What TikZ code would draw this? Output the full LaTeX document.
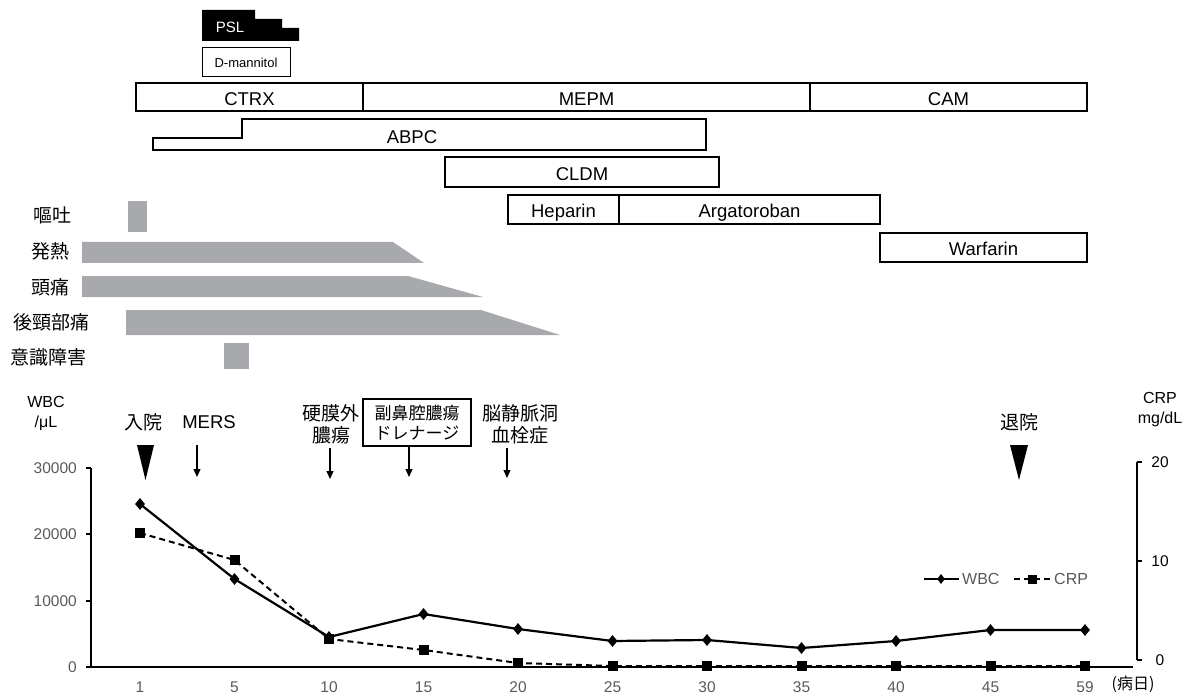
\documentclass[tikz,border=0pt]{standalone}
\usepackage{fontspec}
\setmainfont{Liberation Sans}
\newfontfamily\jp{Noto Sans CJK JP}
\usetikzlibrary{arrows.meta,shapes.geometric}
\definecolor{bargray}{RGB}{167,169,172}
\definecolor{ticktext}{RGB}{89,89,89}
\newcommand\fsz[2]{\fontsize{#1}{#2}\selectfont}
\begin{document}
\begin{tikzpicture}[x=1pt,y=-1pt,
  drugbox/.style={draw, line width=1.2pt, inner sep=0pt, outer sep=0pt, font={\fsz{18.5}{20}}, text height=17pt, text depth=0pt},
  drugtext/.style={inner sep=0pt, font={\fsz{18.5}{20}}, text height=13.3pt, text depth=0pt},
  symlabel/.style={inner sep=0pt, font={\jp\fsz{19}{22}}},
  symbar/.style={fill=bargray},
  evlabel/.style={inner sep=0pt, align=center, font={\jp\fsz{19}{22}}},
  evarrow/.style={line width=1.1pt, -{Triangle[width=7pt,length=8pt]}},
  lticklabel/.style={inner sep=0pt, anchor=east, text=ticktext, font={\fsz{15.5}{18}}},
  rticklabel/.style={inner sep=0pt, font={\fsz{15.5}{18}}},
  xticklabel/.style={inner sep=0pt, text=ticktext, font={\fsz{15.5}{18}}},
  axisline/.style={line width=1.3pt},
  wbcline/.style={line width=2.2pt},
  crpline/.style={line width=2pt, dash pattern=on 6pt off 4pt},
  wbcmark/.style={diamond, fill=black, inner sep=0pt, minimum width=10pt, minimum height=12pt},
  crpmark/.style={rectangle, fill=black, inner sep=0pt, minimum size=10pt},
]
\useasboundingbox (0,0) rectangle (1189,695);

% ---------- medications ----------
\fill[black] (202,10) -- (255,10) -- (255,19) -- (282,19) -- (282,28) -- (299,28) -- (299,41) -- (202,41) -- cycle;
\node[inner sep=0pt, text=white, font={\fsz{15}{17}}, text height=10.7pt, text depth=0pt] (psl) at (230,27) {PSL};
\node[draw, line width=1pt, minimum width=88pt, minimum height=29pt, inner sep=0pt, font={\fsz{13}{15}}, text height=11pt, text depth=0pt] (dman) at (246,62.5) {D-mannitol};

\node[drugbox, minimum width=227pt, minimum height=28pt] (ctrx) at (249.5,97) {CTRX};
\node[drugbox, minimum width=447pt, minimum height=28pt] (mepm) at (586.5,97) {MEPM};
\node[drugbox, minimum width=277pt, minimum height=28pt] (cam) at (948.5,97) {CAM};

\draw[line width=1.2pt] (153,138) -- (242,138) -- (242,119) -- (706,119) -- (706,150) -- (153,150) -- cycle;
\node[drugtext] (abpc) at (412,137) {ABPC};

\node[drugbox, minimum width=274pt, minimum height=30pt] (cldm) at (582,172) {CLDM};
\node[drugbox, minimum width=111pt, minimum height=29pt] (hep) at (563.5,209.5) {Heparin};
\node[drugbox, minimum width=261pt, minimum height=29pt] (arg) at (749.5,209.5) {Argatoroban};
\node[drugbox, minimum width=207pt, minimum height=29pt] (war) at (983.5,247.5) {Warfarin};

% ---------- symptoms ----------
\node[symlabel] (s1) at (52,215) {嘔吐};
\node[symlabel] (s2) at (50,251) {発熱};
\node[symlabel] (s3) at (50,287) {頭痛};
\node[symlabel] (s4) at (51,322) {後頸部痛};
\node[symlabel] (s5) at (48,357) {意識障害};
\fill[symbar] (128,201) rectangle (147,232);
\fill[symbar] (82,242) -- (393,242) -- (424,263) -- (82,263) -- cycle;
\fill[symbar] (82,276) -- (408,276) -- (483,297) -- (82,297) -- cycle;
\fill[symbar] (126,310) -- (481,310) -- (560,335) -- (126,335) -- cycle;
\fill[symbar] (224,343) rectangle (249,369);

% ---------- axes ----------
\node[inner sep=0pt, align=center, font={\fsz{16}{20}}] (wbcunit) at (46,413) {WBC\\/μL};
\node[inner sep=0pt, align=center, font={\fsz{16}{20}}] (crpunit) at (1160,410) {CRP\\mg/dL};

\draw[axisline] (91,468) -- (91,667);
\foreach \yy/\lab in {468/30000,534/20000,601/10000,667/0}{
  \draw[axisline] (86,\yy) -- (91,\yy);
  \node[lticklabel] (l\lab) at (77,\yy) {\lab};
}
\draw[axisline] (1137,462) -- (1137,660);
\foreach \yy/\lab in {462/20,561/10,660/0}{
  \draw[axisline] (1137,\yy) -- (1142,\yy);
  \node[rticklabel] (r\lab) at (1160,\yy) {\lab};
}
\draw[line width=2pt] (86,667) -- (1133,667);

\foreach \i/\lab in {0/1,1/5,2/10,3/15,4/20,5/25,6/30,7/35,8/40,9/45,10/59}{
  \node[xticklabel] (x\lab) at (140+94.5*\i,687) {\lab};
}
\node[inner sep=0pt, font={\jp\fsz{16}{18}}] (daylab) at (1133,684) {(病日)};

% ---------- data ----------
\foreach \i/\wy/\cy in {0/504/533,1/579/560,2/637/639,3/614/650,4/629/663,5/641/666,6/640/666,7/648/666,8/641/666,9/630/666,10/630/666}{
  \coordinate (w\i) at (140+94.5*\i,\wy);
  \coordinate (c\i) at (140+94.5*\i,\cy);
}
\draw[crpline] (c0) -- (c1) -- (c2) -- (c3) -- (c4) -- (c5) -- (c6) -- (c7) -- (c8) -- (c9) -- (c10);
\draw[wbcline] (w0) -- (w1) -- (w2) -- (w3) -- (w4) -- (w5) -- (w6) -- (w7) -- (w8) -- (w9) -- (w10);
\foreach \i in {0,...,10}{
  \node[crpmark] (cm\i) at (c\i) {};
  \node[wbcmark] (wm\i) at (w\i) {};
}

% legend
\coordinate (lw1) at (924,579); \coordinate (lw2) at (959,579);
\draw[wbcline] (lw1) -- (lw2);
\node[wbcmark, minimum width=8pt, minimum height=10pt] (lwm) at (941,579) {};
\node[inner sep=0pt, anchor=west, text=ticktext, font={\fsz{16}{18}}] (lwt) at (962,579) {WBC};
\coordinate (lc1) at (1014,579); \coordinate (lc2) at (1052,579);
\draw[crpline] (lc1) -- (lc2);
\node[crpmark, minimum size=9pt] (lcm) at (1032,579) {};
\node[inner sep=0pt, anchor=west, text=ticktext, font={\fsz{16}{18}}] (lct) at (1054,579) {CRP};

% ---------- events ----------
\node[evlabel] (adm) at (143,422) {入院};
\fill[black] (137,445) -- (154,445) -- (145.5,480) -- cycle;
\node[inner sep=0pt, font={\fsz{18.5}{20}}] (mers) at (209,422) {MERS};
\coordinate (mersA) at (197,445); \coordinate (mersB) at (197,477);
\draw[evarrow] (mersA) -- (mersB);
\node[evlabel] (epi) at (331,424) {硬膜外\\膿瘍};
\coordinate (epiA) at (330,448); \coordinate (epiB) at (330,479);
\draw[evarrow] (epiA) -- (epiB);
\node[draw, line width=1.2pt, minimum width=108pt, minimum height=47pt, inner sep=0pt, align=center, font={\jp\fsz{17}{20}}] (drain) at (417,422.5) {副鼻腔膿瘍\\ドレナージ};
\coordinate (drA) at (409,446); \coordinate (drB) at (409,477);
\draw[evarrow] (drA) -- (drB);
\node[evlabel] (cvt) at (520,424) {脳静脈洞\\血栓症};
\coordinate (cvtA) at (507,448); \coordinate (cvtB) at (507,478);
\draw[evarrow] (cvtA) -- (cvtB);
\node[evlabel] (dis) at (1019,422) {退院};
\fill[black] (1010,445) -- (1028,445) -- (1019,480) -- cycle;
\end{tikzpicture}
\end{document}
